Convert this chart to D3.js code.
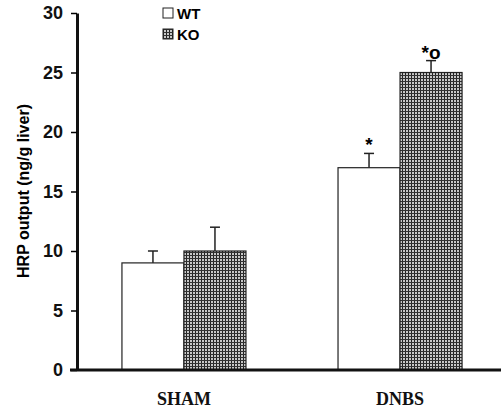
<!DOCTYPE html>
<html>
<head>
<meta charset="utf-8">
<script src="https://cdn.jsdelivr.net/npm/d3@7"></script>
<style>
  body { margin: 0; background: #fff; }
  svg { display: block; }
</style>
</head>
<body>
<div id="chart"></div>
<script>
// data
const groups = ["SHAM", "DNBS"];
const series = ["WT", "KO"];
const wtValues = [9, 17];
const koValues = [10, 25];
const wtErrors = [1, 1.2];
const koErrors = [2, 1];
const wtMarks = ["", "*"];
const koMarks = ["", "*o"];
const yTicks = [0, 5, 10, 15, 20, 25, 30];

const svg = d3.select("#chart")
  .append("svg")
  .attr("width", 501)
  .attr("height", 410);

// fine crosshatch fill for KO bars
const defs = svg.append("defs");
const pat = defs.append("pattern")
  .attr("id", "hatch")
  .attr("patternUnits", "userSpaceOnUse")
  .attr("width", 3)
  .attr("height", 3);
pat.append("rect").attr("width", 3).attr("height", 3).attr("fill", "#c8c8c8");
pat.append("rect").attr("width", 1).attr("height", 3).attr("fill", "#222");
pat.append("rect").attr("width", 3).attr("height", 1).attr("fill", "#333");

const y = d3.scaleLinear()
  .domain([0, 30])
  .range([370, 13]);

const x = d3.scaleBand()
  .domain(groups)
  .range([77, 507])
  .paddingInner(0.426)
  .paddingOuter(0.208);

const xs = d3.scaleBand()
  .domain(series)
  .range([0, x.bandwidth()]);

const rows = groups.map((g, i) => [
  { g, s: "WT", v: wtValues[i], e: wtErrors[i], m: wtMarks[i] },
  { g, s: "KO", v: koValues[i], e: koErrors[i], m: koMarks[i] }
]).flat();

// error bars (drawn first so bar tops cover the stem)
const err = svg.append("g").attr("stroke", "#222").attr("stroke-width", 1.5);
rows.forEach(d => {
  const cx = x(d.g) + xs(d.s) + xs.bandwidth() / 2;
  err.append("line")
    .attr("x1", cx).attr("x2", cx)
    .attr("y1", y(d.v)).attr("y2", y(d.v + d.e));
  err.append("line")
    .attr("x1", cx - 5).attr("x2", cx + 5)
    .attr("y1", y(d.v + d.e)).attr("y2", y(d.v + d.e));
});

svg.append("g")
  .selectAll("rect")
  .data(rows)
  .join("rect")
  .attr("x", d => x(d.g) + xs(d.s))
  .attr("y", d => y(d.v))
  .attr("width", xs.bandwidth())
  .attr("height", d => y(0) - y(d.v))
  .attr("fill", d => d.s === "WT" ? "#fff" : "url(#hatch)")
  .attr("stroke", "#222")
  .attr("stroke-width", 1.2);

// significance marks
svg.append("g")
  .selectAll("text")
  .data(rows.filter(d => d.m))
  .join("text")
  .attr("x", d => x(d.g) + xs(d.s) + xs.bandwidth() / 2)
  .attr("y", d => y(d.v + d.e) - 2)
  .attr("text-anchor", "middle")
  .attr("font-family", "Liberation Sans, Arial, sans-serif")
  .attr("font-weight", "bold")
  .attr("font-size", 19)
  .text(d => d.m);

// y axis
const yAxis = svg.append("g")
  .attr("transform", "translate(77,0)")
  .call(d3.axisLeft(y).tickValues(yTicks).tickSize(6).tickPadding(8).tickSizeOuter(0));
yAxis.select(".domain").attr("stroke-width", 3).attr("stroke", "#111");
yAxis.selectAll(".tick line").attr("stroke-width", 1.5);
yAxis.selectAll("text")
  .attr("font-family", "Liberation Sans, Arial, sans-serif")
  .attr("font-weight", "bold")
  .attr("font-size", 18)
  .attr("fill", "#111");

// x axis
const xAxis = svg.append("g")
  .attr("transform", "translate(0,370)")
  .call(d3.axisBottom(x).tickSize(0).tickPadding(22));
xAxis.select(".domain")
  .attr("d", "M70,0H501")
  .attr("stroke-width", 3)
  .attr("stroke", "#111");
xAxis.selectAll("text")
  .attr("font-family", "Liberation Serif, Times New Roman, serif")
  .attr("font-weight", "bold")
  .attr("font-size", 18)
  .attr("fill", "#111");

// y title
svg.append("text")
  .attr("transform", "translate(29,191) rotate(-90)")
  .attr("text-anchor", "middle")
  .attr("font-family", "Liberation Sans, Arial, sans-serif")
  .attr("font-weight", "bold")
  .attr("font-size", 16)
  .text("HRP output (ng/g liver)");

// legend
const legend = svg.append("g")
  .selectAll("g")
  .data(series)
  .join("g")
  .attr("transform", (d, i) => `translate(163,${8 + i * 21})`);
legend.append("rect")
  .attr("width", 10).attr("height", 10)
  .attr("fill", d => d === "WT" ? "#fff" : "url(#hatch)")
  .attr("stroke", "#222");
legend.append("text")
  .attr("x", 14).attr("y", 11)
  .attr("font-family", "Liberation Sans, Arial, sans-serif")
  .attr("font-weight", "bold")
  .attr("font-size", 15)
  .text(d => d);
</script>
</body>
</html>
